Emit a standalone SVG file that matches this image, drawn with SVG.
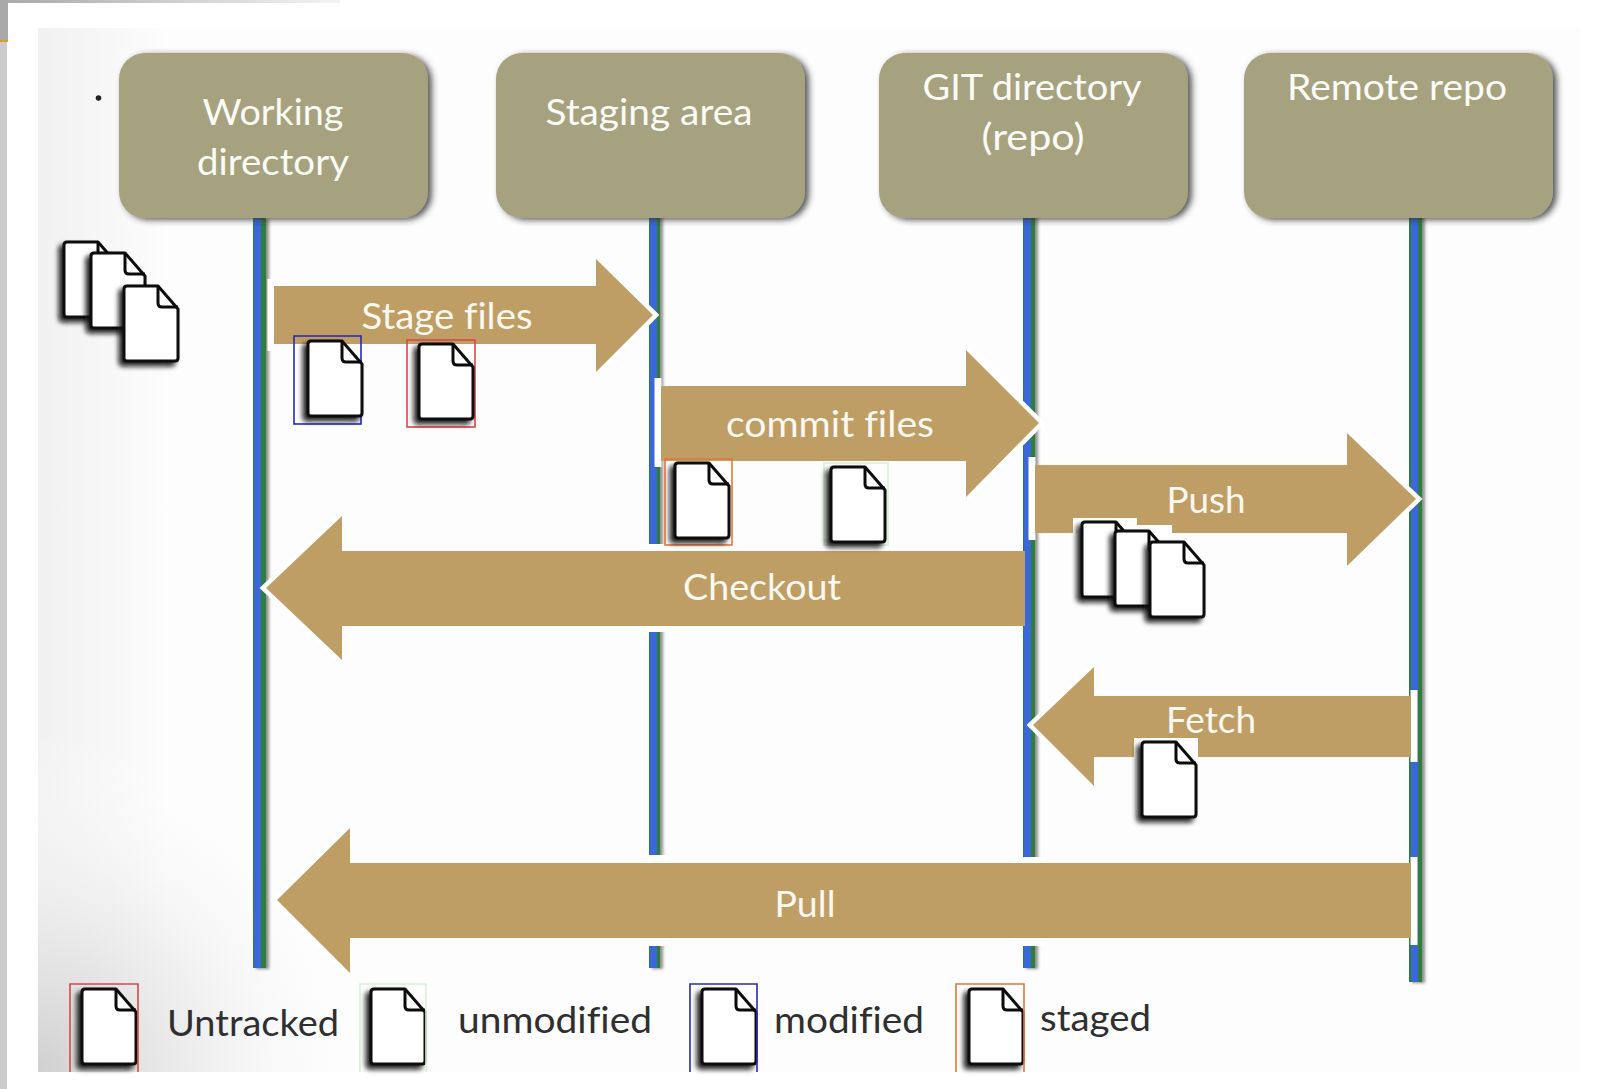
<svg xmlns="http://www.w3.org/2000/svg" xmlns:xlink="http://www.w3.org/1999/xlink" width="1618" height="1089" viewBox="0 0 1618 1089">
<style>
text{font-family:Lato,"Open Sans","Liberation Sans",sans-serif;font-variant-ligatures:none}
.box{fill:#a6a27f;filter:url(#boxShadow)}
.head{font-size:37px;fill:#fbfbf5;text-anchor:middle}
.arrow{fill:#bf9e65}
.halo{fill:none;stroke:#fff;stroke-width:9;stroke-linejoin:miter}
.bar{fill:none;stroke:#fff;stroke-width:7}
.alab{font-size:36px;fill:#fbf8ef;text-anchor:middle}
.leg{font-size:37px;fill:#2f2f2f}
.green{fill:#2f7d3c}
.blue{fill:#3a68d8}
.frame{fill:none;stroke-width:1.6}
.fr{stroke:#d8474a}.fb{stroke:#2a2ab0}.fo{stroke:#e0773a}.fg{stroke:#d9f0d9}
.d{fill:#fff;stroke:#0a0a0a;stroke-width:3;stroke-linejoin:round}
.f{fill:none;stroke:#0a0a0a;stroke-width:3;stroke-linejoin:round}
</style>
<defs>
<filter id="boxShadow" x="-10%" y="-10%" width="125%" height="125%"><feDropShadow dx="4" dy="2" stdDeviation="3" flood-color="#333" flood-opacity=".8"/></filter>
<filter id="lineShadow" x="-200%" y="-2%" width="500%" height="104%"><feDropShadow dx="3" dy="1" stdDeviation="1.800" flood-color="#444" flood-opacity=".6"/></filter>
<filter id="docShadow" x="-30%" y="-15%" width="160%" height="140%"><feDropShadow dx="-4" dy="4" stdDeviation="2.500" flood-color="#111" flood-opacity=".9"/></filter>
<symbol id="doc" width="62" height="84" viewBox="-4 -2 62 84" overflow="visible">
<g filter="url(#docShadow)"><path class="d" d="M0 3Q0 0 3 0H34L54 23V72Q54 75 51 75H3Q0 75 0 72Z"/></g>
<path class="f" d="M34 0V17Q34 21 38 21H54"/>
</symbol>
<linearGradient id="left" x1="0" x2="1" y1="0" y2="0"><stop offset="0" stop-color="#f1f1f1"/><stop offset="1" stop-color="#fdfdfd"/></linearGradient>
<radialGradient id="corner" gradientUnits="userSpaceOnUse" cx="38" cy="1072" r="340"><stop offset="0" stop-color="#d0d0d0"/><stop offset=".5" stop-color="#ececec" stop-opacity=".8"/><stop offset="1" stop-color="#fff" stop-opacity="0"/></radialGradient>
<linearGradient id="topbar" x1="0" x2="1" y1="0" y2="0"><stop offset="0" stop-color="#a8a8a8"/><stop offset="1" stop-color="#f4f4f4"/></linearGradient>
</defs>
<rect width="1618" height="1089" fill="#fff"/>
<rect x="0" y="0" width="340" height="3" fill="url(#topbar)"/>
<rect x="0" y="0" width="8" height="40" fill="#a9a9a9"/>
<rect x="0" y="40" width="8" height="2" fill="#d6a21e"/>
<rect x="0" y="42" width="7" height="1047" fill="#cbcbcb"/>
<rect x="38" y="28" width="1541" height="1044" fill="#fdfdfd"/>
<rect x="38" y="28" width="130" height="1044" fill="url(#left)"/>
<rect x="38" y="732" width="340" height="340" fill="url(#corner)"/>
<circle cx="98.500" cy="98" r="2.800" fill="#222"/>

<g id="connectors">
<g id="lifelines" filter="url(#lineShadow)">
<g><rect class="green" x="253" y="218" width="13" height="750"/><rect class="blue" x="254" y="218" width="7" height="750"/></g>
<g><rect class="green" x="649" y="216" width="11" height="752"/><rect class="blue" x="650" y="216" width="7" height="752"/></g>
<g><rect class="green" x="1023" y="216" width="12" height="752"/><rect class="blue" x="1024" y="216" width="7" height="752"/></g>
<g><rect class="green" x="1409" y="216" width="13" height="766"/><rect class="blue" x="1411" y="216" width="7" height="766"/></g>
</g>
<g id="gaps" fill="#fff">
<rect x="640" y="544" width="30" height="88"/>
<rect x="640" y="855" width="30" height="91"/>
<rect x="1015" y="857" width="30" height="89"/>
</g>
<g id="arrow-stage">
<path class="bar" d="M271 279V351"/><path class="halo" d="M596 259L653 315L596 372"/>
<polygon class="arrow" points="274,286 596,286 596,259 653,315 596,372 596,344 274,344"/>
<text class="alab" x="447" y="329" textLength="171" lengthAdjust="spacingAndGlyphs">Stage files</text>
</g>
<g id="arrow-commit">
<path class="bar" d="M658 378V467"/><path class="halo" d="M966 350L1039 423L966 497"/>
<polygon class="arrow" points="661,386 966,386 966,350 1039,423 966,497 966,461 661,461"/>
<text class="alab" x="830" y="437" textLength="208" lengthAdjust="spacingAndGlyphs">commit files</text>
</g>
<g id="arrow-push">
<path class="bar" d="M1032 457V540"/><path class="halo" d="M1347 433L1416 499L1347 566"/>
<polygon class="arrow" points="1035,465 1347,465 1347,433 1416,499 1347,566 1347,533 1035,533"/>
<rect x="1073" y="518" width="64" height="18" fill="#fff"/><rect x="1137" y="525" width="35" height="11" fill="#fff"/>
<text class="alab" x="1206" y="513" textLength="79" lengthAdjust="spacingAndGlyphs">Push</text>
</g>
<g id="arrow-checkout">
<path class="halo" d="M342 516L266 588L342 660"/>
<polygon class="arrow" points="1025,551 342,551 342,516 266,588 342,660 342,626 1025,626"/>
<text class="alab" x="762" y="600" textLength="158" lengthAdjust="spacingAndGlyphs">Checkout</text>
</g>
<g id="arrow-fetch">
<path class="halo" d="M1094 667L1033 725L1094 786"/><path class="bar" d="M1414 690V762"/>
<polygon class="arrow" points="1411,696 1094,696 1094,667 1033,725 1094,786 1094,757 1411,757"/>
<text class="alab" x="1211" y="733" textLength="90" lengthAdjust="spacingAndGlyphs">Fetch</text>
</g>
<g id="arrow-pull">
<path class="halo" d="M350 828L277 900L350 973"/><path class="bar" d="M1414 857V945"/>
<polygon class="arrow" points="1411,863 350,863 350,828 277,900 350,973 350,938 1411,938"/>
<text class="alab" x="805" y="917" textLength="61" lengthAdjust="spacingAndGlyphs">Pull</text>
</g>
</g>

<g id="node-working"><rect class="box" x="119" y="53" width="309" height="165" rx="26"/><text class="head" x="273" y="125" textLength="141" lengthAdjust="spacingAndGlyphs">Working</text><text class="head" x="273" y="175" textLength="152" lengthAdjust="spacingAndGlyphs">directory</text></g>
<g id="node-staging"><rect class="box" x="496" y="53" width="309" height="165" rx="26"/><text class="head" x="649" y="125" textLength="207" lengthAdjust="spacingAndGlyphs">Staging area</text></g>
<g id="node-git"><rect class="box" x="879" y="53" width="309" height="165" rx="26"/><text class="head" x="1032" y="100" textLength="219" lengthAdjust="spacingAndGlyphs">GIT directory</text><text class="head" x="1033" y="150" textLength="103" lengthAdjust="spacingAndGlyphs">(repo)</text></g>
<g id="node-remote"><rect class="box" x="1244" y="53" width="309" height="165" rx="26"/><text class="head" x="1397" y="100" textLength="220" lengthAdjust="spacingAndGlyphs">Remote repo</text></g>

<g id="docs-untracked-start"><use xlink:href="#doc" href="#doc" x="60" y="240"/><use xlink:href="#doc" href="#doc" x="87" y="251"/><use xlink:href="#doc" href="#doc" x="120" y="284"/></g>
<g id="doc-stage-modified"><rect class="frame fb" x="294" y="336" width="67" height="88"/><use xlink:href="#doc" href="#doc" x="304" y="339"/></g>
<g id="doc-stage-untracked"><rect class="frame fr" x="407" y="340" width="68" height="87"/><use xlink:href="#doc" href="#doc" x="415" y="342"/></g>
<g id="doc-commit-staged"><rect class="frame fo" x="665" y="459" width="67" height="86"/><use xlink:href="#doc" href="#doc" x="671" y="461"/></g>
<g id="doc-commit-unmodified"><rect class="frame fg" x="824" y="463" width="64" height="82"/><use xlink:href="#doc" href="#doc" x="827" y="465"/></g>
<g id="docs-push"><use xlink:href="#doc" href="#doc" x="1078" y="520"/><use xlink:href="#doc" href="#doc" x="1111" y="529"/><use xlink:href="#doc" href="#doc" x="1146" y="540"/></g>
<g id="doc-fetch"><rect x="1134" y="738" width="64" height="20" fill="#fff"/><use xlink:href="#doc" href="#doc" x="1138" y="740"/></g>

<g id="legend">
<g id="legend-untracked"><use xlink:href="#doc" href="#doc" x="78" y="987"/><path class="frame fr" d="M70 1072V984H138V1072"/><text class="leg" x="167" y="1036" textLength="172" lengthAdjust="spacingAndGlyphs">Untracked</text></g>
<g id="legend-unmodified"><use xlink:href="#doc" href="#doc" x="367" y="987"/><path class="frame fg" d="M360 1072V984H426V1072"/><text class="leg" x="458" y="1033" textLength="194" lengthAdjust="spacingAndGlyphs">unmodified</text></g>
<g id="legend-modified"><use xlink:href="#doc" href="#doc" x="698" y="987"/><path class="frame fb" d="M690 1072V984H757V1072"/><text class="leg" x="774" y="1033" textLength="150" lengthAdjust="spacingAndGlyphs">modified</text></g>
<g id="legend-staged"><use xlink:href="#doc" href="#doc" x="965" y="987"/><path class="frame fo" d="M956 1072V984H1024V1072"/><text class="leg" x="1040" y="1031" textLength="111" lengthAdjust="spacingAndGlyphs">staged</text></g>
</g>
</svg>
